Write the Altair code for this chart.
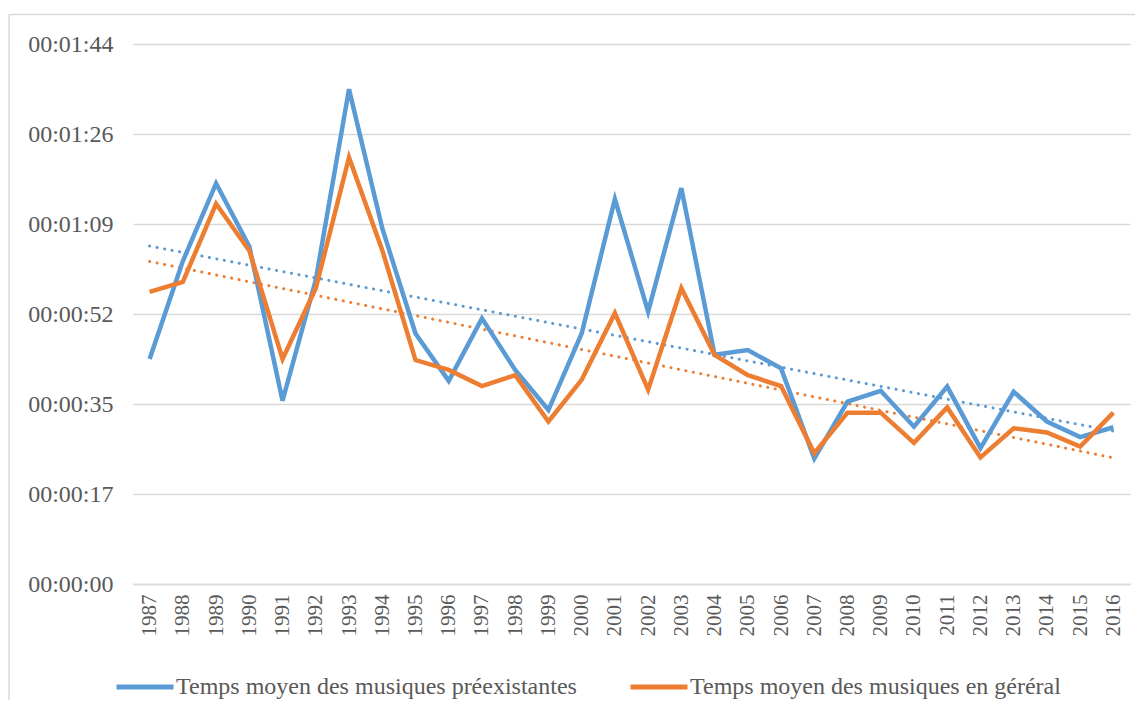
import altair as alt
import pandas as pd

years = list(range(1987, 2017))
# seconds
preexistantes = [43.2, 62.0, 76.9, 64.8, 35.2, 58.4, 95.0, 68.3, 48.1, 39.0,
                 51.0, 41.1, 33.4, 48.1, 73.9, 52.3, 76.0, 44.0, 44.9, 41.4,
                 24.1, 35.0, 37.1, 30.2, 37.9, 26.1, 36.9, 31.2, 28.2, 30.1]
general = [56.1, 58.0, 73.0, 64.0, 43.2, 56.8, 81.9, 64.1, 43.0, 41.1,
           38.0, 40.1, 31.2, 39.2, 52.0, 37.3, 56.8, 44.0, 40.1, 38.0,
           25.1, 32.9, 32.9, 27.1, 33.9, 24.3, 29.9, 29.1, 26.4, 32.9]
series_names = ["Temps moyen des musiques préexistantes",
                "Temps moyen des musiques en géréral"]
series_colors = ["#5B9BD5", "#ED7D31"]
y_tick_values = [0, 17.28, 34.56, 51.84, 69.12, 86.4, 103.68]
y_tick_labels = ["00:00:00", "00:00:17", "00:00:35", "00:00:52",
                 "00:01:09", "00:01:26", "00:01:44"]

df = pd.DataFrame({
    "year": years * 2,
    "seconds": preexistantes + general,
    "series": [series_names[0]] * len(years) + [series_names[1]] * len(years),
})

label_expr = "[" + ",".join("'" + l + "'" for l in y_tick_labels) + "][round(datum.value/17.28)]"

FONT = "Liberation Serif"

x_enc = alt.X("year:O", title=None,
              scale=alt.Scale(type="point", padding=0.5),
              axis=alt.Axis(labelAngle=-90, labelFontSize=21, labelFont=FONT,
                            labelColor="#595959", ticks=False, domainColor="#d9d9d9",
                            domainWidth=1.3, labelPadding=10, grid=False))
y_enc = alt.Y("seconds:Q", title=None,
              scale=alt.Scale(domain=[0, 103.68], nice=False, zero=True),
              axis=alt.Axis(values=y_tick_values, labelExpr=label_expr,
                            labelFontSize=24, labelFont=FONT, labelColor="#595959",
                            ticks=False, domain=False, gridColor="#d9d9d9",
                            gridWidth=1.3, labelPadding=20))
color_enc = alt.Color("series:N", title=None,
                      scale=alt.Scale(domain=series_names, range=series_colors),
                      legend=alt.Legend(orient="none", direction="horizontal",
                                        legendX=-19, legendY=612,
                                        symbolType="stroke", symbolSize=3249,
                                        symbolStrokeWidth=5, labelFont=FONT,
                                        labelFontSize=24, labelColor="#595959",
                                        labelOffset=0, columnPadding=43,
                                        padding=0, labelLimit=600,
                                        symbolOpacity=1))

base = alt.Chart(df)

lines = base.mark_line(strokeWidth=4.5, strokeJoin="miter").encode(
    x=x_enc, y=y_enc, color=color_enc)

trend = base.transform_regression(
    "year", "seconds", groupby=["series"]
).mark_line(strokeWidth=3, strokeDash=[0.1, 7.5], strokeCap="round").encode(
    x=x_enc, y=y_enc, color=color_enc)

# chart-area frame (decorative, as in the Excel original)
frame_df = pd.DataFrame({"k": [0]})
frame_top = alt.Chart(frame_df).mark_rule(color="#d9d9d9", strokeWidth=1.5).encode(
    x=alt.value(-124), x2=alt.value(1020), y=alt.value(-29.5))
frame_left = alt.Chart(frame_df).mark_rule(color="#d9d9d9", strokeWidth=1.5).encode(
    x=alt.value(-124), y=alt.value(-29.5), y2=alt.value(700))

chart = alt.layer(frame_top, frame_left, trend, lines).properties(
    width=997, height=540,
    autosize=alt.AutoSizeParams(type="none"),
    padding={"left": 125, "top": 36, "right": 5, "bottom": 116},
).configure_view(stroke=None)

chart.save("out.html", embed_options={"renderer": "svg", "actions": False})
